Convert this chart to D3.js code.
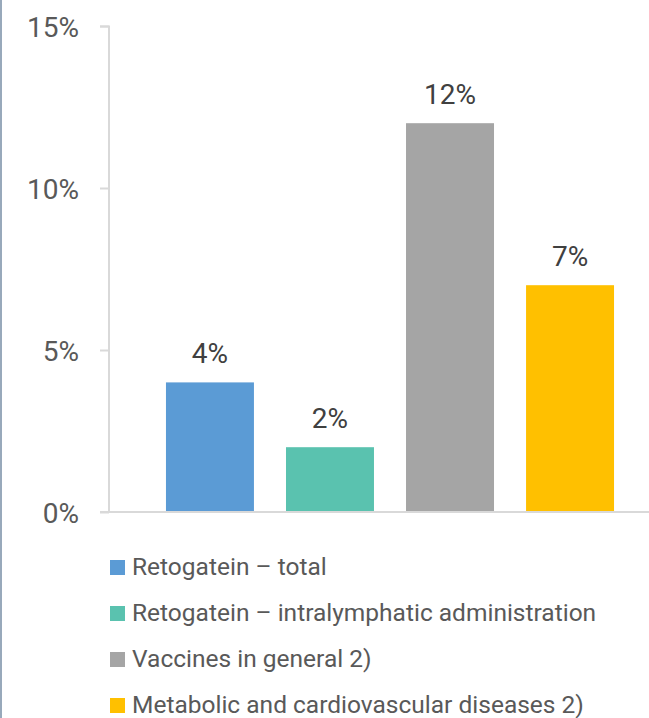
<!DOCTYPE html>
<meta charset="utf-8">
<style>
  body { margin: 0; background: #fff; }
  svg { display: block; font-family: Roboto, sans-serif; }
</style>
<body>
<svg id="chart" width="649" height="718"></svg>
</body>
<script src="https://d3js.org/d3.v7.min.js"></script>
<script>

var categories = ["Retogatein – total",
                  "Retogatein – intralymphatic administration",
                  "Vaccines in general 2)",
                  "Metabolic and cardiovascular diseases 2)"];
var values = [4, 2, 12, 7];
var colors = ["#5B9BD5", "#5AC2AF", "#A5A5A5", "#FFC000"];
var yTicks = [0, 5, 10, 15];

var svg = d3.select("#chart");

// thin frame line on the left edge
svg.append("rect")
    .attr("x", 0).attr("y", 0)
    .attr("width", 2).attr("height", 718)
    .attr("fill", "#98a9bb");

var x = d3.scaleBand()
    .domain(categories)
    .range([150, 630])
    .paddingInner(0.267)
    .paddingOuter(0.133);

var y = d3.scaleLinear()
    .domain([0, 15])
    .range([512, 26]);

// y axis
var yAxis = svg.append("g")
    .attr("transform", "translate(109,0)")
    .call(d3.axisLeft(y).tickValues(yTicks).tickSize(9).tickPadding(21)
      .tickFormat(function(d) { return d + "%"; }));
yAxis.select(".domain").attr("stroke", "#d9d9d9").attr("stroke-width", 2)
    .attr("d", "M-9,26.5H0V512");
yAxis.selectAll(".tick line").attr("stroke", "#d9d9d9").attr("stroke-width", 2);
yAxis.selectAll(".tick text")
    .attr("fill", "#595959")
    .attr("font-size", 28)
    .attr("font-family", "Roboto, sans-serif")
    .attr("dy", "0.36em");

// x axis line
svg.append("line")
    .attr("x1", 100).attr("x2", 649)
    .attr("y1", y(0)).attr("y2", y(0))
    .attr("stroke", "#d9d9d9")
    .attr("stroke-width", 2);

// bars
svg.selectAll(".bar")
    .data(values)
    .enter().append("rect")
    .attr("class", "bar")
    .attr("x", function(d, i) { return x(categories[i]); })
    .attr("y", function(d) { return y(d); })
    .attr("width", x.bandwidth())
    .attr("height", function(d) { return y(0) - y(d) - 1; })
    .attr("fill", function(d, i) { return colors[i]; });

// value labels
svg.selectAll(".label")
    .data(values)
    .enter().append("text")
    .attr("class", "label")
    .attr("x", function(d, i) { return x(categories[i]) + x.bandwidth() / 2; })
    .attr("y", function(d) { return y(d) - 19; })
    .attr("text-anchor", "middle")
    .attr("font-size", 28)
    .attr("fill", "#404040")
    .text(function(d) { return d + "%"; });

// legend
var legend = svg.selectAll(".legend")
    .data(categories)
    .enter().append("g")
    .attr("class", "legend")
    .attr("transform", function(d, i) { return "translate(110," + (560 + i * 46) + ")"; });

legend.append("rect")
    .attr("width", 15)
    .attr("height", 15)
    .attr("fill", function(d, i) { return colors[i]; });

legend.append("text")
    .attr("x", 22)
    .attr("y", 15)
    .attr("font-size", 24.5)
    .attr("fill", "#595959")
    .text(function(d) { return d; });
</script>
